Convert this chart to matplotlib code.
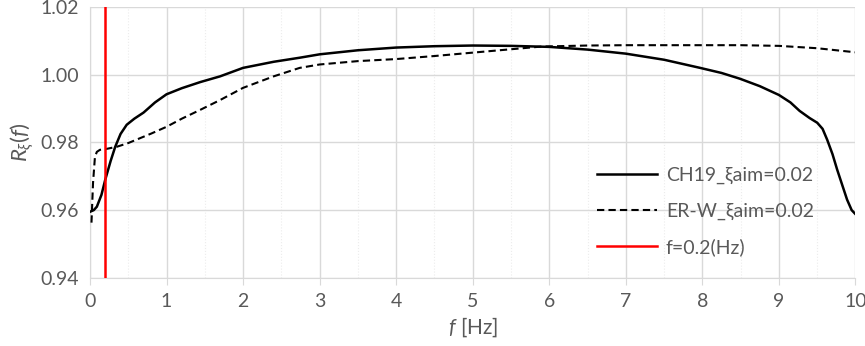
import matplotlib
matplotlib.use("Agg")
import matplotlib.pyplot as plt
from matplotlib.ticker import MultipleLocator

# CH19_ξaim=0.02 (solid)
ch19_f = [0.0, 0.05, 0.09, 0.15, 0.2, 0.27, 0.33, 0.4, 0.48, 0.58, 0.7, 0.85, 1.0, 1.2, 1.44, 1.7, 2.0, 2.4, 2.74, 3.0,
          3.5, 4.0, 4.5, 5.0, 5.5, 6.0, 6.5, 7.0, 7.5, 7.97, 8.25, 8.49, 8.75, 9.0, 9.15, 9.27, 9.4, 9.5, 9.57,
          9.63, 9.7, 9.76, 9.83, 9.89, 9.95, 10.0]
ch19_v = [0.9595, 0.9600, 0.9610, 0.9645, 0.9690, 0.9745, 0.9787, 0.9825, 0.9852, 0.9870, 0.9888, 0.9918, 0.9942, 0.9960, 0.9978, 0.9995, 1.0020, 1.0038, 1.0050, 1.0060,
          1.0072, 1.0080, 1.0084, 1.0086, 1.0085, 1.0082, 1.0074, 1.0062, 1.0044, 1.0020, 1.0005, 0.9988, 0.9966, 0.9940, 0.9918, 0.9893, 0.9872, 0.9858, 0.9840,
          0.9808, 0.9765, 0.9720, 0.9672, 0.9631, 0.9600, 0.9588]

# ER-W_ξaim=0.02 (dashed)
erw_f = [0.02, 0.04, 0.065, 0.09, 0.13, 0.2, 0.35, 0.5, 0.65, 0.8, 1.0, 1.2, 1.44, 1.7, 2.0, 2.4, 2.74, 3.0, 3.5, 4.0,
         4.5, 5.0, 5.5, 5.9, 6.5, 7.0, 7.5, 8.0, 8.5, 9.0, 9.5, 10.0]
erw_v = [0.9563, 0.9680, 0.9757, 0.9772, 0.9778, 0.9780, 0.9787, 0.9798, 0.9812, 0.9826, 0.9846, 0.9870, 0.9896, 0.9925, 0.9961, 0.9995, 1.0020, 1.0030, 1.0040, 1.0046,
         1.0055, 1.0065, 1.0075, 1.0083, 1.0086, 1.0087, 1.0087, 1.0087, 1.0087, 1.0085, 1.0078, 1.0066]

f_mark = 0.2

plt.rcParams['font.family'] = ['Lato', 'DejaVu Sans']
plt.rcParams['mathtext.fontset'] = 'custom'
plt.rcParams['mathtext.it'] = 'Lato:italic'
plt.rcParams['mathtext.rm'] = 'Lato'
fig = plt.figure(figsize=(8.65, 3.46), dpi=100)
ax = fig.add_axes([0.104, 0.197, 0.885, 0.783])

txt = '#595959'
gridc = '#d9d9d9'

ax.plot(ch19_f, ch19_v, color='black', lw=1.8, label='CH19_ξaim=0.02', zorder=3)
ax.plot(erw_f, erw_v, color='black', lw=1.5, ls=(0, (3.5, 2)), label='ER-W_ξaim=0.02', zorder=3)
ax.axvline(f_mark, color='#ff0000', lw=1.8, label='f=0.2(Hz)', zorder=4)

ax.set_xlim(0, 10)
ax.set_ylim(0.94, 1.02)
ax.xaxis.set_major_locator(MultipleLocator(1))
ax.xaxis.set_minor_locator(MultipleLocator(0.5))
ax.yaxis.set_major_locator(MultipleLocator(0.02))
ax.yaxis.set_major_formatter(matplotlib.ticker.FormatStrFormatter('%.2f'))

ax.grid(True, which='major', color=gridc, lw=1.0, zorder=0)
ax.grid(True, which='minor', axis='x', color='#ececec', lw=0.8, ls=':', zorder=0)
for s in ['top', 'right']:
    ax.spines[s].set_visible(False)
ax.spines['left'].set_color(gridc)
ax.spines['bottom'].set_color(gridc)
ax.tick_params(axis='x', which='major', length=5, color=gridc, labelsize=14, labelcolor=txt, pad=6)
ax.tick_params(axis='x', which='minor', length=0)
ax.tick_params(axis='y', length=0, labelsize=14, labelcolor=txt, pad=8)

ax.set_xlabel(r'$f$ [Hz]', fontsize=15, color=txt, labelpad=4)
ax.set_ylabel(r'$R_{\xi}(f)$', fontsize=16, color=txt, labelpad=4)

leg = ax.legend(loc='upper left', bbox_to_anchor=(0.662, 0.41), frameon=False, fontsize=14,
                labelspacing=0.95, handlelength=3.1, handletextpad=0.45, borderpad=0, borderaxespad=0)
for t in leg.get_texts():
    t.set_color(txt)

fig.savefig('out.png', dpi=100)
